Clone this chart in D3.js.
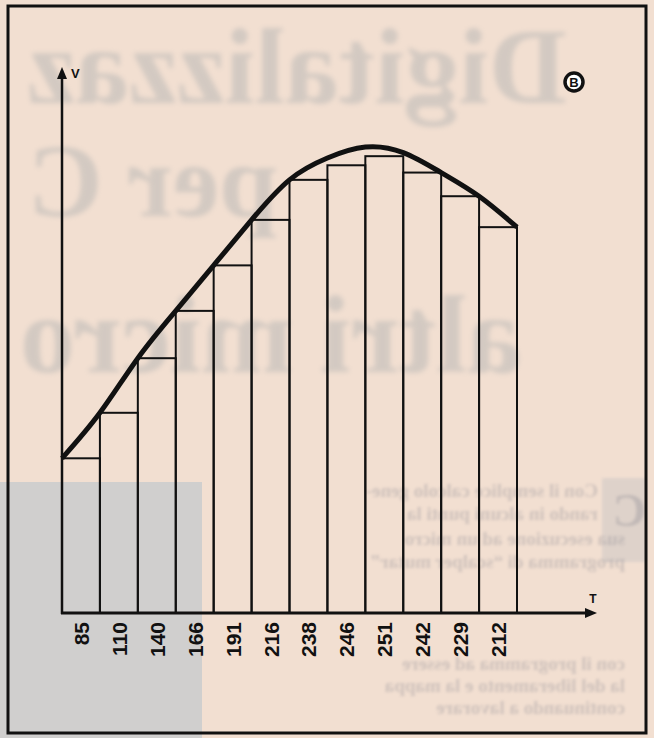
<!DOCTYPE html>
<html>
<head>
<meta charset="utf-8">
<script src="https://cdn.jsdelivr.net/npm/d3@7/dist/d3.min.js"></script>
<style>
  html, body { margin: 0; padding: 0; background: #f2dfd1; }
  svg { display: block; }
</style>
</head>
<body>
<svg id="chart" width="654" height="738"></svg>
<script>
// Sample labels printed under each strip (time samples T)
const sampleLabels = ["85", "110", "140", "166", "191", "216", "238", "246", "251", "242", "229", "212"];
// Height of each inscribed strip (value V of the sample)
const stripValues = [85, 110, 140, 166, 191, 216, 238, 246, 251, 242, 229, 212];
// Value of the continuous signal at the 13 strip edges
const signalValues = [85, 110, 140, 166, 191, 216, 238, 250, 256, 253, 242, 229, 212];
const axisTop = 300;

// Faint print showing through the paper
const ghostHeadline = ["Digitalizzaz", "per C", "altri micro"];
const ghostBody = [
  "Con il semplice calcolo gene-",
  "rando in alcuni punti la",
  "sua esecuzione ad un micro",
  "programma di \u201cscalper mutar\u201d",
  "con il programma ad essere",
  "la del liberamento e la mappa",
  "continuando a lavorare"
];

const svg = d3.select("#chart");
const W = 654, H = 738;

const defs = svg.append("defs");
defs.append("filter").attr("id", "soft")
  .attr("x", "-10%").attr("y", "-20%").attr("width", "120%").attr("height", "140%")
  .append("feGaussianBlur").attr("stdDeviation", 2.6);
defs.append("filter").attr("id", "softer")
  .append("feGaussianBlur").attr("stdDeviation", 1.5);

// ---- paper ----
svg.append("rect").attr("width", W).attr("height", H).attr("fill", "#f2dfd1");
svg.append("rect").attr("x", 0).attr("y", 482).attr("width", 202).attr("height", H - 482)
  .attr("fill", "#d0cfce");
svg.append("rect").attr("x", 602).attr("y", 478).attr("width", 44).attr("height", 84)
  .attr("fill", "#d2cac6").attr("opacity", 0.6).attr("filter", "url(#softer)");

// ---- show-through print (mirrored, blurred) ----
const ghost = svg.append("g");
const headPos = [[567, 103, 108], [277, 216, 104], [522, 372, 110]];
ghost.selectAll("text.head").data(ghostHeadline).join("text")
  .attr("class", "head")
  .attr("transform", (d, i) => `translate(${headPos[i][0]},${headPos[i][1]}) scale(-1,1)`)
  .attr("font-family", "Liberation Serif, DejaVu Serif, serif")
  .attr("font-weight", "bold")
  .attr("font-size", (d, i) => headPos[i][2])
  .attr("fill", "#8e9aa0")
  .attr("opacity", 0.3)
  .attr("filter", "url(#soft)")
  .text(d => d);

const bodyX = [598, 598, 625, 625, 625, 625, 625];
const bodyY = [497, 520, 545, 568, 670, 692, 714];
ghost.selectAll("text.body").data(ghostBody).join("text")
  .attr("class", "body")
  .attr("transform", (d, i) => `translate(${bodyX[i]},${bodyY[i]}) scale(-1,1)`)
  .attr("font-family", "Liberation Serif, DejaVu Serif, serif")
  .attr("font-weight", "bold")
  .attr("font-size", 19)
  .attr("fill", "#7f7f8a")
  .attr("opacity", 0.3)
  .attr("filter", "url(#softer)")
  .text(d => d);
ghost.append("text")
  .attr("transform", "translate(646,526) scale(-1,1)")
  .attr("font-family", "Liberation Serif, serif").attr("font-weight", "bold")
  .attr("font-size", 46).attr("fill", "#7f7f8a").attr("opacity", 0.3)
  .attr("filter", "url(#softer)")
  .text("C");

// ---- scales ----
const x = d3.scaleBand().domain(d3.range(stripValues.length)).range([62, 517]).padding(0);
const xEdge = d3.scaleLinear().domain([0, stripValues.length]).range([62, 517]);
const y = d3.scaleLinear().domain([0, axisTop]).range([613, 67]);

const ink = "#111";
const plot = svg.append("g");

// strips (inscribed rectangles)
plot.append("g").selectAll("rect").data(stripValues).join("rect")
  .attr("x", (d, i) => x(i))
  .attr("y", d => y(d))
  .attr("width", x.bandwidth())
  .attr("height", d => y(0) - y(d))
  .attr("fill", "none")
  .attr("stroke", ink)
  .attr("stroke-width", 2);

// continuous signal
const line = d3.line()
  .x((d, i) => xEdge(i))
  .y(d => y(d))
  .curve(d3.curveNatural);
plot.append("path").datum(signalValues)
  .attr("d", line)
  .attr("fill", "none")
  .attr("stroke", ink)
  .attr("stroke-width", 5)
  .attr("stroke-linejoin", "round");

// axes with arrowheads
const x0 = x.range()[0], yBase = y(0), xTip = 597, yTip = y(axisTop);
plot.append("line").attr("x1", x0).attr("x2", x0).attr("y1", yBase + 1).attr("y2", yTip + 8)
  .attr("stroke", ink).attr("stroke-width", 2.5);
plot.append("path").attr("d", `M${x0},${yTip} L${x0 - 5},${yTip + 12} L${x0 + 5},${yTip + 12} Z`).attr("fill", ink);
plot.append("line").attr("x1", x0 - 1).attr("x2", xTip - 8).attr("y1", yBase).attr("y2", yBase)
  .attr("stroke", ink).attr("stroke-width", 3);
plot.append("path").attr("d", `M${xTip},${yBase} L${xTip - 12},${yBase - 5} L${xTip - 12},${yBase + 5} Z`).attr("fill", ink);

// sample labels
const axis = d3.axisBottom(x).tickSize(0).tickFormat(i => sampleLabels[i]);
const gx = plot.append("g").attr("transform", `translate(0,${yBase})`).call(axis);
gx.select(".domain").remove();
gx.selectAll("text")
  .attr("transform", "rotate(-90)")
  .attr("text-anchor", "end")
  .attr("x", -9).attr("y", 0).attr("dy", "0.38em")
  .attr("font-family", "Liberation Sans, Arial, Helvetica, sans-serif")
  .attr("font-weight", "bold")
  .attr("font-size", 21)
  .attr("fill", ink);

// axis names
plot.append("text").attr("x", 71).attr("y", 78)
  .attr("font-family", "Liberation Sans, Arial, sans-serif").attr("font-weight", "bold")
  .attr("font-size", 13).attr("fill", ink).text("V");
plot.append("text").attr("x", 593).attr("y", 603).attr("text-anchor", "middle")
  .attr("font-family", "Liberation Sans, Arial, sans-serif").attr("font-weight", "bold")
  .attr("font-size", 12).attr("fill", ink).text("T");

// figure tag
const tag = plot.append("g").attr("transform", "translate(574,82)");
tag.append("circle").attr("r", 9).attr("fill", "#fff").attr("stroke", ink).attr("stroke-width", 3.5);
tag.append("text").attr("text-anchor", "middle").attr("dy", "0.36em")
  .attr("font-family", "Liberation Sans, Arial, sans-serif").attr("font-weight", "bold")
  .attr("font-size", 13).attr("fill", ink).text("B");

// frame
svg.append("rect").attr("x", 8).attr("y", 6).attr("width", 638).attr("height", 727)
  .attr("fill", "none").attr("stroke", ink).attr("stroke-width", 3);
</script>
</body>
</html>
